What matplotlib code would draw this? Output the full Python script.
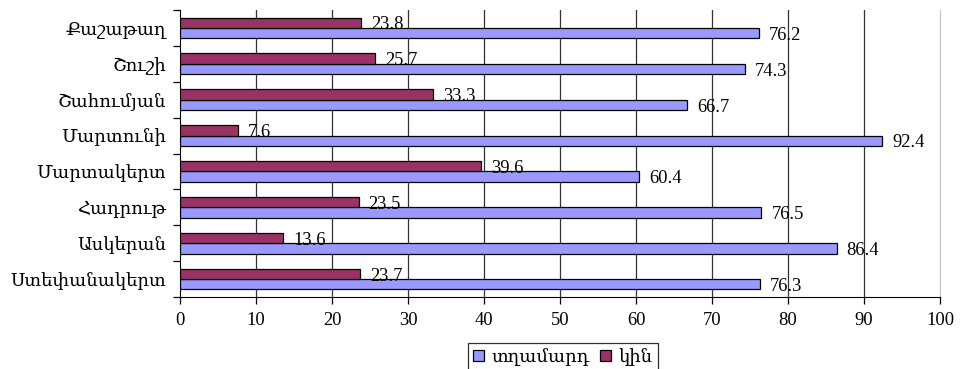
import matplotlib
matplotlib.use("Agg")
import matplotlib.pyplot as plt
import numpy as np

plt.rcParams['font.family'] = ['Liberation Serif', 'DejaVu Serif']

categories = ["Քաշաթաղ", "Շուշի", "Շահումյան", "Մարտունի", "Մարտակերտ", "Հադրութ", "Ասկերան", "Ստեփանակերտ"]
men = [76.2, 74.3, 66.7, 92.4, 60.4, 76.5, 86.4, 76.3]
women = [23.8, 25.7, 33.3, 7.6, 39.6, 23.5, 13.6, 23.7]
series_names = ["տղամարդ", "կին"]
xticks = [0, 10, 20, 30, 40, 50, 60, 70, 80, 90, 100]

fig = plt.figure(figsize=(9.65, 3.69), dpi=100)
ax = fig.add_axes([180/965, 1-297/369, 760/965, 287/369])

n = len(categories)
pos = np.arange(n)[::-1]  # top category first
h = 0.29
c_men = "#9999FF"
c_women = "#993366"

bm = ax.barh(pos - h/2, men, height=h, color=c_men, edgecolor="black", linewidth=0.9, label=series_names[0], zorder=3)
bw = ax.barh(pos + h/2, women, height=h, color=c_women, edgecolor="black", linewidth=0.9, label=series_names[1], zorder=3)

fs = 13.3
for rect, v in zip(bm, men):
    ax.text(v + 1.3, rect.get_y() + rect.get_height()/2 - 0.06, f"{v:.1f}", va="center", ha="left", fontsize=fs, zorder=4)
for rect, v in zip(bw, women):
    ax.text(v + 1.3, rect.get_y() + rect.get_height()/2 - 0.06, f"{v:.1f}", va="center", ha="left", fontsize=fs, zorder=4)

ax.set_xlim(0, 100)
ax.set_ylim(-0.5, n - 0.5)
ax.set_xticks(xticks)
ax.set_xticklabels([str(t) for t in xticks], fontsize=fs)
ax.set_yticks(pos)
ax.set_yticklabels(categories, fontsize=13)
ax.tick_params(axis='y', which='major', length=0, pad=10)
ax.set_yticks(np.arange(-0.5, n, 1.0), minor=True)
ax.tick_params(axis='y', which='minor', length=5, direction='out', width=0.9)
ax.tick_params(axis='x', which='major', length=5, direction='out', width=0.9, pad=6)

for t in xticks[1:-1]:
    ax.axvline(t, color="#333333", linewidth=0.9, zorder=1)
ax.spines['top'].set_visible(False)
ax.spines['right'].set_color("#c0c0c0")
ax.spines['left'].set_color("black")
ax.spines['bottom'].set_color("black")

handles = [bm, bw]
leg = fig.legend(handles, series_names, loc="center", bbox_to_anchor=(563/965, 1-357/369), ncol=2,
                 frameon=True, fancybox=False, edgecolor="black", fontsize=13,
                 handlelength=0.6, handleheight=0.6, handletextpad=0.4, columnspacing=0.6,
                 borderpad=0.3, borderaxespad=0)
leg.get_frame().set_linewidth(0.9)

fig.savefig("out.png", dpi=100)
